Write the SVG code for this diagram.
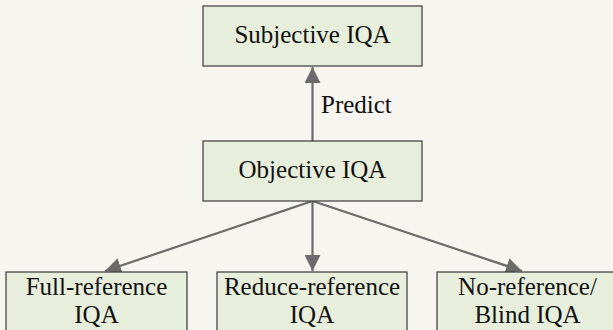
<svg xmlns="http://www.w3.org/2000/svg" width="613" height="330" viewBox="0 0 613 330">
  <style>
    .box { fill: #e7eedc; stroke: #3a3a3a; stroke-width: 1.2; }
    .lbl { font-family: "Liberation Serif", "Times New Roman", serif; font-size: 25px; fill: #111; text-anchor: middle; }
    .edge { stroke: #6b6b6b; stroke-width: 2.2; fill: none; marker-end: url(#head); }
  </style>
  <defs>
    <marker id="head" markerWidth="16" markerHeight="16" viewBox="0 0 16 16" refX="16" refY="8" orient="auto" markerUnits="userSpaceOnUse">
      <path d="M0,0 L16,8 L0,16 Z" fill="#6b6b6b"/>
    </marker>
  </defs>
  <rect width="613" height="330" fill="#f7f5ef"/>

  <g id="connectors">
    <line class="edge" x1="312.5" y1="141" x2="312.5" y2="67"/>
    <text class="lbl" x="321" y="113" style="text-anchor:start">Predict</text>
    <line class="edge" x1="312.5" y1="201" x2="105" y2="271"/>
    <line class="edge" x1="312.5" y1="201" x2="312.5" y2="271"/>
    <line class="edge" x1="312.5" y1="201" x2="522" y2="271"/>
  </g>

  <g id="subjective">
    <rect class="box" x="203" y="6" width="219" height="60"/>
    <text class="lbl" x="312.5" y="43">Subjective IQA</text>
  </g>

  <g id="objective">
    <rect class="box" x="203" y="141" width="219" height="60"/>
    <text class="lbl" x="312.5" y="178">Objective IQA</text>
  </g>

  <g id="full-reference">
    <rect class="box" x="6" y="272" width="181" height="70"/>
    <text class="lbl" x="96.5" y="295">Full-reference</text>
    <text class="lbl" x="96.5" y="323">IQA</text>
  </g>

  <g id="reduce-reference">
    <rect class="box" x="217" y="272" width="190" height="70"/>
    <text class="lbl" x="312" y="295">Reduce-reference</text>
    <text class="lbl" x="312" y="323">IQA</text>
  </g>

  <g id="no-reference">
    <rect class="box" x="437" y="272" width="181" height="70"/>
    <text class="lbl" x="527.5" y="295">No-reference/</text>
    <text class="lbl" x="527.5" y="323">Blind IQA</text>
  </g>
</svg>
